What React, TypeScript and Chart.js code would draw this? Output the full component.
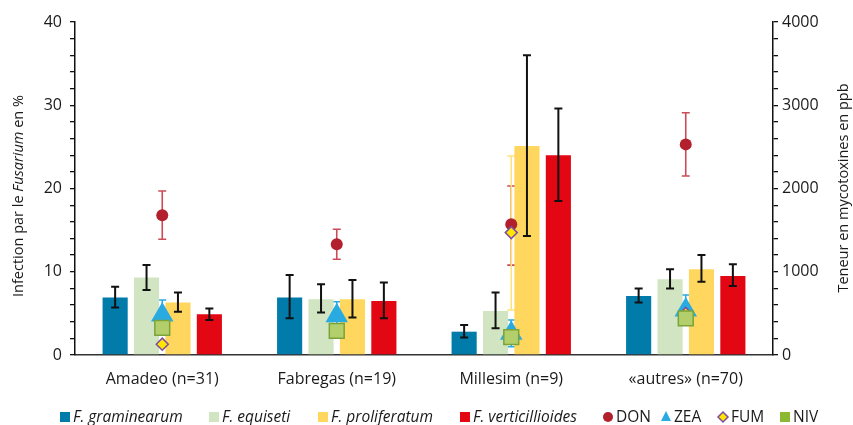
import React, { useEffect, useRef } from "react";
import { Chart, registerables } from "chart.js";

Chart.register(...registerables);

// ---------- data ----------
const categories = ["Amadeo (n=31)", "Fabregas (n=19)", "Millesim (n=9)", "«autres» (n=70)"];

const graminearum = [6.9, 6.9, 2.8, 7.1];
const graminearumLow = [5.7, 4.4, 2.1, 6.3];
const graminearumHigh = [8.2, 9.6, 3.6, 8.0];

const equiseti = [9.3, 6.7, 5.3, 9.1];
const equisetiLow = [7.8, 5.1, 3.2, 8.0];
const equisetiHigh = [10.8, 8.5, 7.5, 10.3];

const proliferatum = [6.3, 6.7, 25.1, 10.3];
const proliferatumLow = [5.2, 4.5, 14.3, 8.8];
const proliferatumHigh = [7.5, 9.0, 36.0, 12.0];

const verticillioides = [4.9, 6.5, 24.0, 9.5];
const verticillioidesLow = [4.2, 4.4, 18.5, 8.3];
const verticillioidesHigh = [5.6, 8.7, 29.6, 10.9];

const don = [1680, 1330, 1570, 2530];
const donLow = [1390, 1150, 1080, 2150];
const donHigh = [1970, 1510, 2030, 2910];

const zea = [480, 470, 260, 540];
const zeaLow = [300, 300, 100, 360];
const zeaHigh = [660, 640, 420, 720];

const fum = [130, 280, 1470, 500];
const fumLow = [100, 200, 540, 420];
const fumHigh = [160, 360, 2390, 580];

const niv = [325, 290, 215, 440];

const leftMax = 40;
const rightMax = 4000;

const FONT = "'Open Sans', 'DejaVu Sans', sans-serif";

const COLORS = {
  gram: "#007BAA",
  equi: "#D1E5C3",
  prol: "#FFD75E",
  vert: "#E30613",
  don: "#B21F2D",
  donErr: "#CC4B57",
  zea: "#29ABE2",
  fum: "#FFE500",
  fumBorder: "#7D4F9E",
  niv: "#B2CF6B",
  nivBorder: "#7BA33A",
};

// ---------- plugins ----------
function drawErr(chart: any, dsIndex: number) {
  const ds: any = chart.data.datasets[dsIndex];
  if (!ds.errLow) return;
  const meta = chart.getDatasetMeta(dsIndex);
  const scale = chart.scales[ds.yAxisID || "y"];
  const ctx = chart.ctx;
  ctx.save();
  ctx.strokeStyle = ds.errColor;
  ctx.lineWidth = ds.errWidth;
  meta.data.forEach((el: any, i: number) => {
    const x = el.x;
    const yl = scale.getPixelForValue(ds.errLow[i]);
    const yh = scale.getPixelForValue(ds.errHigh[i]);
    const c = ds.capWidth / 2;
    ctx.beginPath();
    ctx.moveTo(x, yl);
    ctx.lineTo(x, yh);
    ctx.moveTo(x - c, yl);
    ctx.lineTo(x + c, yl);
    ctx.moveTo(x - c, yh);
    ctx.lineTo(x + c, yh);
    ctx.stroke();
  });
  ctx.restore();
}

const errorBarPlugin = {
  id: "errorBars",
  beforeDatasetsDraw(chart: any) {
    chart.data.datasets.forEach((ds: any, i: number) => {
      if (ds.type === "line") drawErr(chart, i);
    });
  },
  afterDatasetDraw(chart: any, args: any) {
    const ds: any = chart.data.datasets[args.index];
    if (ds.type !== "line") drawErr(chart, args.index);
  },
};

function drawMarker(ctx: CanvasRenderingContext2D, kind: string, x: number, y: number) {
  ctx.save();
  ctx.beginPath();
  if (kind === "DON") {
    ctx.fillStyle = COLORS.don;
    ctx.arc(x, y, 5, 0, Math.PI * 2);
    ctx.fill();
  } else if (kind === "ZEA") {
    ctx.fillStyle = COLORS.zea;
    ctx.moveTo(x, y - 6);
    ctx.lineTo(x + 5, y + 4);
    ctx.lineTo(x - 5, y + 4);
    ctx.closePath();
    ctx.fill();
  } else if (kind === "FUM") {
    ctx.fillStyle = COLORS.fum;
    ctx.strokeStyle = COLORS.fumBorder;
    ctx.lineWidth = 1.5;
    ctx.moveTo(x, y - 5);
    ctx.lineTo(x + 5, y);
    ctx.lineTo(x, y + 5);
    ctx.lineTo(x - 5, y);
    ctx.closePath();
    ctx.fill();
    ctx.stroke();
  } else if (kind === "NIV") {
    ctx.fillStyle = "#8DB832";
    ctx.fillRect(x - 5, y - 5, 10, 10);
  }
  ctx.restore();
}

const legendItems = [
  { kind: "box", color: COLORS.gram, label: "F. graminearum", italic: true, x: 60 },
  { kind: "box", color: COLORS.equi, label: "F. equiseti", italic: true, x: 209 },
  { kind: "box", color: COLORS.prol, label: "F. proliferatum", italic: true, x: 318 },
  { kind: "box", color: COLORS.vert, label: "F. verticillioides", italic: true, x: 460 },
  { kind: "DON", color: COLORS.don, label: "DON", italic: false, x: 603 },
  { kind: "ZEA", color: COLORS.zea, label: "ZEA", italic: false, x: 661 },
  { kind: "FUM", color: COLORS.fum, label: "FUM", italic: false, x: 718 },
  { kind: "NIV", color: COLORS.niv, label: "NIV", italic: false, x: 780 },
];

const decorPlugin = {
  id: "decor",
  afterDraw(chart: any) {
    const ctx: CanvasRenderingContext2D = chart.ctx;
    ctx.save();
    ctx.fillStyle = "#1a1a1a";
    ctx.textBaseline = "alphabetic";

    const setFont = (it: boolean, size: number) => {
      ctx.font = `${it ? "italic " : ""}${size}px ${FONT}`;
    };

    // left axis title with italic part
    const leftParts = [
      { t: "Infection par le ", it: false },
      { t: "Fusarium", it: true },
      { t: " en %", it: false },
    ];
    let total = 0;
    leftParts.forEach((p) => {
      setFont(p.it, 14.5);
      total += ctx.measureText(p.t).width;
    });
    ctx.save();
    ctx.translate(23, 196);
    ctx.rotate(-Math.PI / 2);
    let px = -total / 2;
    leftParts.forEach((p) => {
      setFont(p.it, 14.5);
      ctx.textAlign = "left";
      ctx.fillText(p.t, px, 0);
      px += ctx.measureText(p.t).width;
    });
    ctx.restore();

    // right axis title
    ctx.save();
    setFont(false, 14.5);
    ctx.translate(848, 188);
    ctx.rotate(-Math.PI / 2);
    ctx.textAlign = "center";
    ctx.fillText("Teneur en mycotoxines en ppb", 0, 0);
    ctx.restore();

    // legend
    const ly = 422;
    legendItems.forEach((it) => {
      if (it.kind === "box") {
        ctx.fillStyle = it.color;
        ctx.fillRect(it.x, 412, 10, 10);
      } else {
        drawMarker(ctx, it.kind, it.x + 5, 417);
      }
      ctx.fillStyle = "#1a1a1a";
      setFont(it.italic, 15.5);
      ctx.textAlign = "left";
      ctx.fillText(it.label, it.x + 13, ly);
    });
    ctx.restore();
  },
};

// ---------- component ----------
export default function App() {
  const canvasRef = useRef<HTMLCanvasElement | null>(null);

  useEffect(() => {
    if (!canvasRef.current) return;
    Chart.defaults.font.family = FONT;
    Chart.defaults.font.size = 16;
    Chart.defaults.color = "#1a1a1a";

    const barCommon = {
      type: "bar" as const,
      yAxisID: "y",
      categoryPercentage: 0.72,
      barPercentage: 0.8,
      errColor: "#111111",
      errWidth: 2,
      capWidth: 8,
      order: 10,
    };
    const pointCommon = {
      type: "line" as const,
      yAxisID: "y2",
      showLine: false,
      pointHoverRadius: 0,
    };

    const chart = new Chart(canvasRef.current, {
      type: "bar",
      data: {
        labels: categories,
        datasets: [
          { ...barCommon, label: "F. graminearum", data: graminearum, backgroundColor: COLORS.gram, errLow: graminearumLow, errHigh: graminearumHigh } as any,
          { ...barCommon, label: "F. equiseti", data: equiseti, backgroundColor: COLORS.equi, errLow: equisetiLow, errHigh: equisetiHigh } as any,
          { ...barCommon, label: "F. proliferatum", data: proliferatum, backgroundColor: COLORS.prol, errLow: proliferatumLow, errHigh: proliferatumHigh } as any,
          { ...barCommon, label: "F. verticillioides", data: verticillioides, backgroundColor: COLORS.vert, errLow: verticillioidesLow, errHigh: verticillioidesHigh } as any,
          {
            ...pointCommon, label: "ZEA", data: zea, order: 4,
            pointStyle: "triangle", pointRadius: 13, pointBackgroundColor: COLORS.zea, pointBorderColor: COLORS.zea, pointBorderWidth: 0,
            errLow: zeaLow, errHigh: zeaHigh, errColor: COLORS.zea, errWidth: 1.5, capWidth: 8,
          } as any,
          {
            ...pointCommon, label: "DON", data: don, order: 3,
            pointStyle: "circle", pointRadius: 6, pointBackgroundColor: COLORS.don, pointBorderColor: COLORS.don, pointBorderWidth: 0,
            errLow: donLow, errHigh: donHigh, errColor: COLORS.donErr, errWidth: 1.6, capWidth: 8,
          } as any,
          {
            ...pointCommon, label: "FUM", data: fum, order: 2,
            pointStyle: "rectRot", pointRadius: 6, pointBackgroundColor: COLORS.fum, pointBorderColor: COLORS.fumBorder, pointBorderWidth: 1.5,
            errLow: fumLow, errHigh: fumHigh, errColor: "#FFE27A", errWidth: 1.5, capWidth: 8,
          } as any,
          {
            ...pointCommon, label: "NIV", data: niv, order: 1,
            pointStyle: "rect", pointRadius: 10.5, pointBackgroundColor: COLORS.niv, pointBorderColor: COLORS.nivBorder, pointBorderWidth: 1.5,
          } as any,
        ],
      },
      options: {
        animation: false,
        responsive: true,
        maintainAspectRatio: false,
        layout: { padding: { left: 0, right: 0, top: 22, bottom: 25 } },
        plugins: { legend: { display: false }, tooltip: { enabled: false } },
        events: [],
        scales: {
          x: {
            grid: { display: false, drawTicks: false },
            border: { display: true, color: "#333333", width: 1.5 },
            ticks: { padding: 15, font: { size: 16 }, color: "#1a1a1a" },
            afterFit: (s: any) => { s.height = 45; },
          },
          y: {
            position: "left",
            min: 0,
            max: leftMax,
            grid: { drawOnChartArea: false, drawTicks: true, tickLength: 5, color: "#111111", lineWidth: 1.3 },
            border: { display: true, color: "#111111", width: 1.5 },
            ticks: {
              stepSize: 2,
              autoSkip: false,
              padding: 8,
              font: { size: 16 },
              color: "#1a1a1a",
              callback: (v: any) => (Number(v) % 10 === 0 ? String(v) : ""),
            },
            afterFit: (s: any) => { s.width = 75; },
          },
          y2: {
            position: "right",
            min: 0,
            max: rightMax,
            grid: { drawOnChartArea: false, drawTicks: true, tickLength: 5, color: "#111111", lineWidth: 1.3 },
            border: { display: true, color: "#111111", width: 1.5 },
            ticks: {
              stepSize: 200,
              autoSkip: false,
              padding: 4,
              font: { size: 16 },
              color: "#1a1a1a",
              callback: (v: any) => (Number(v) % 1000 === 0 ? String(v) : ""),
            },
            afterFit: (s: any) => { s.width = 80; },
          },
        },
      } as any,
      plugins: [errorBarPlugin, decorPlugin],
    });

    return () => chart.destroy();
  }, []);

  return (
    <div style={{ position: "absolute", left: 0, top: 0, width: 853, height: 425, background: "#fff" }}>
      <canvas ref={canvasRef} />
    </div>
  );
}
